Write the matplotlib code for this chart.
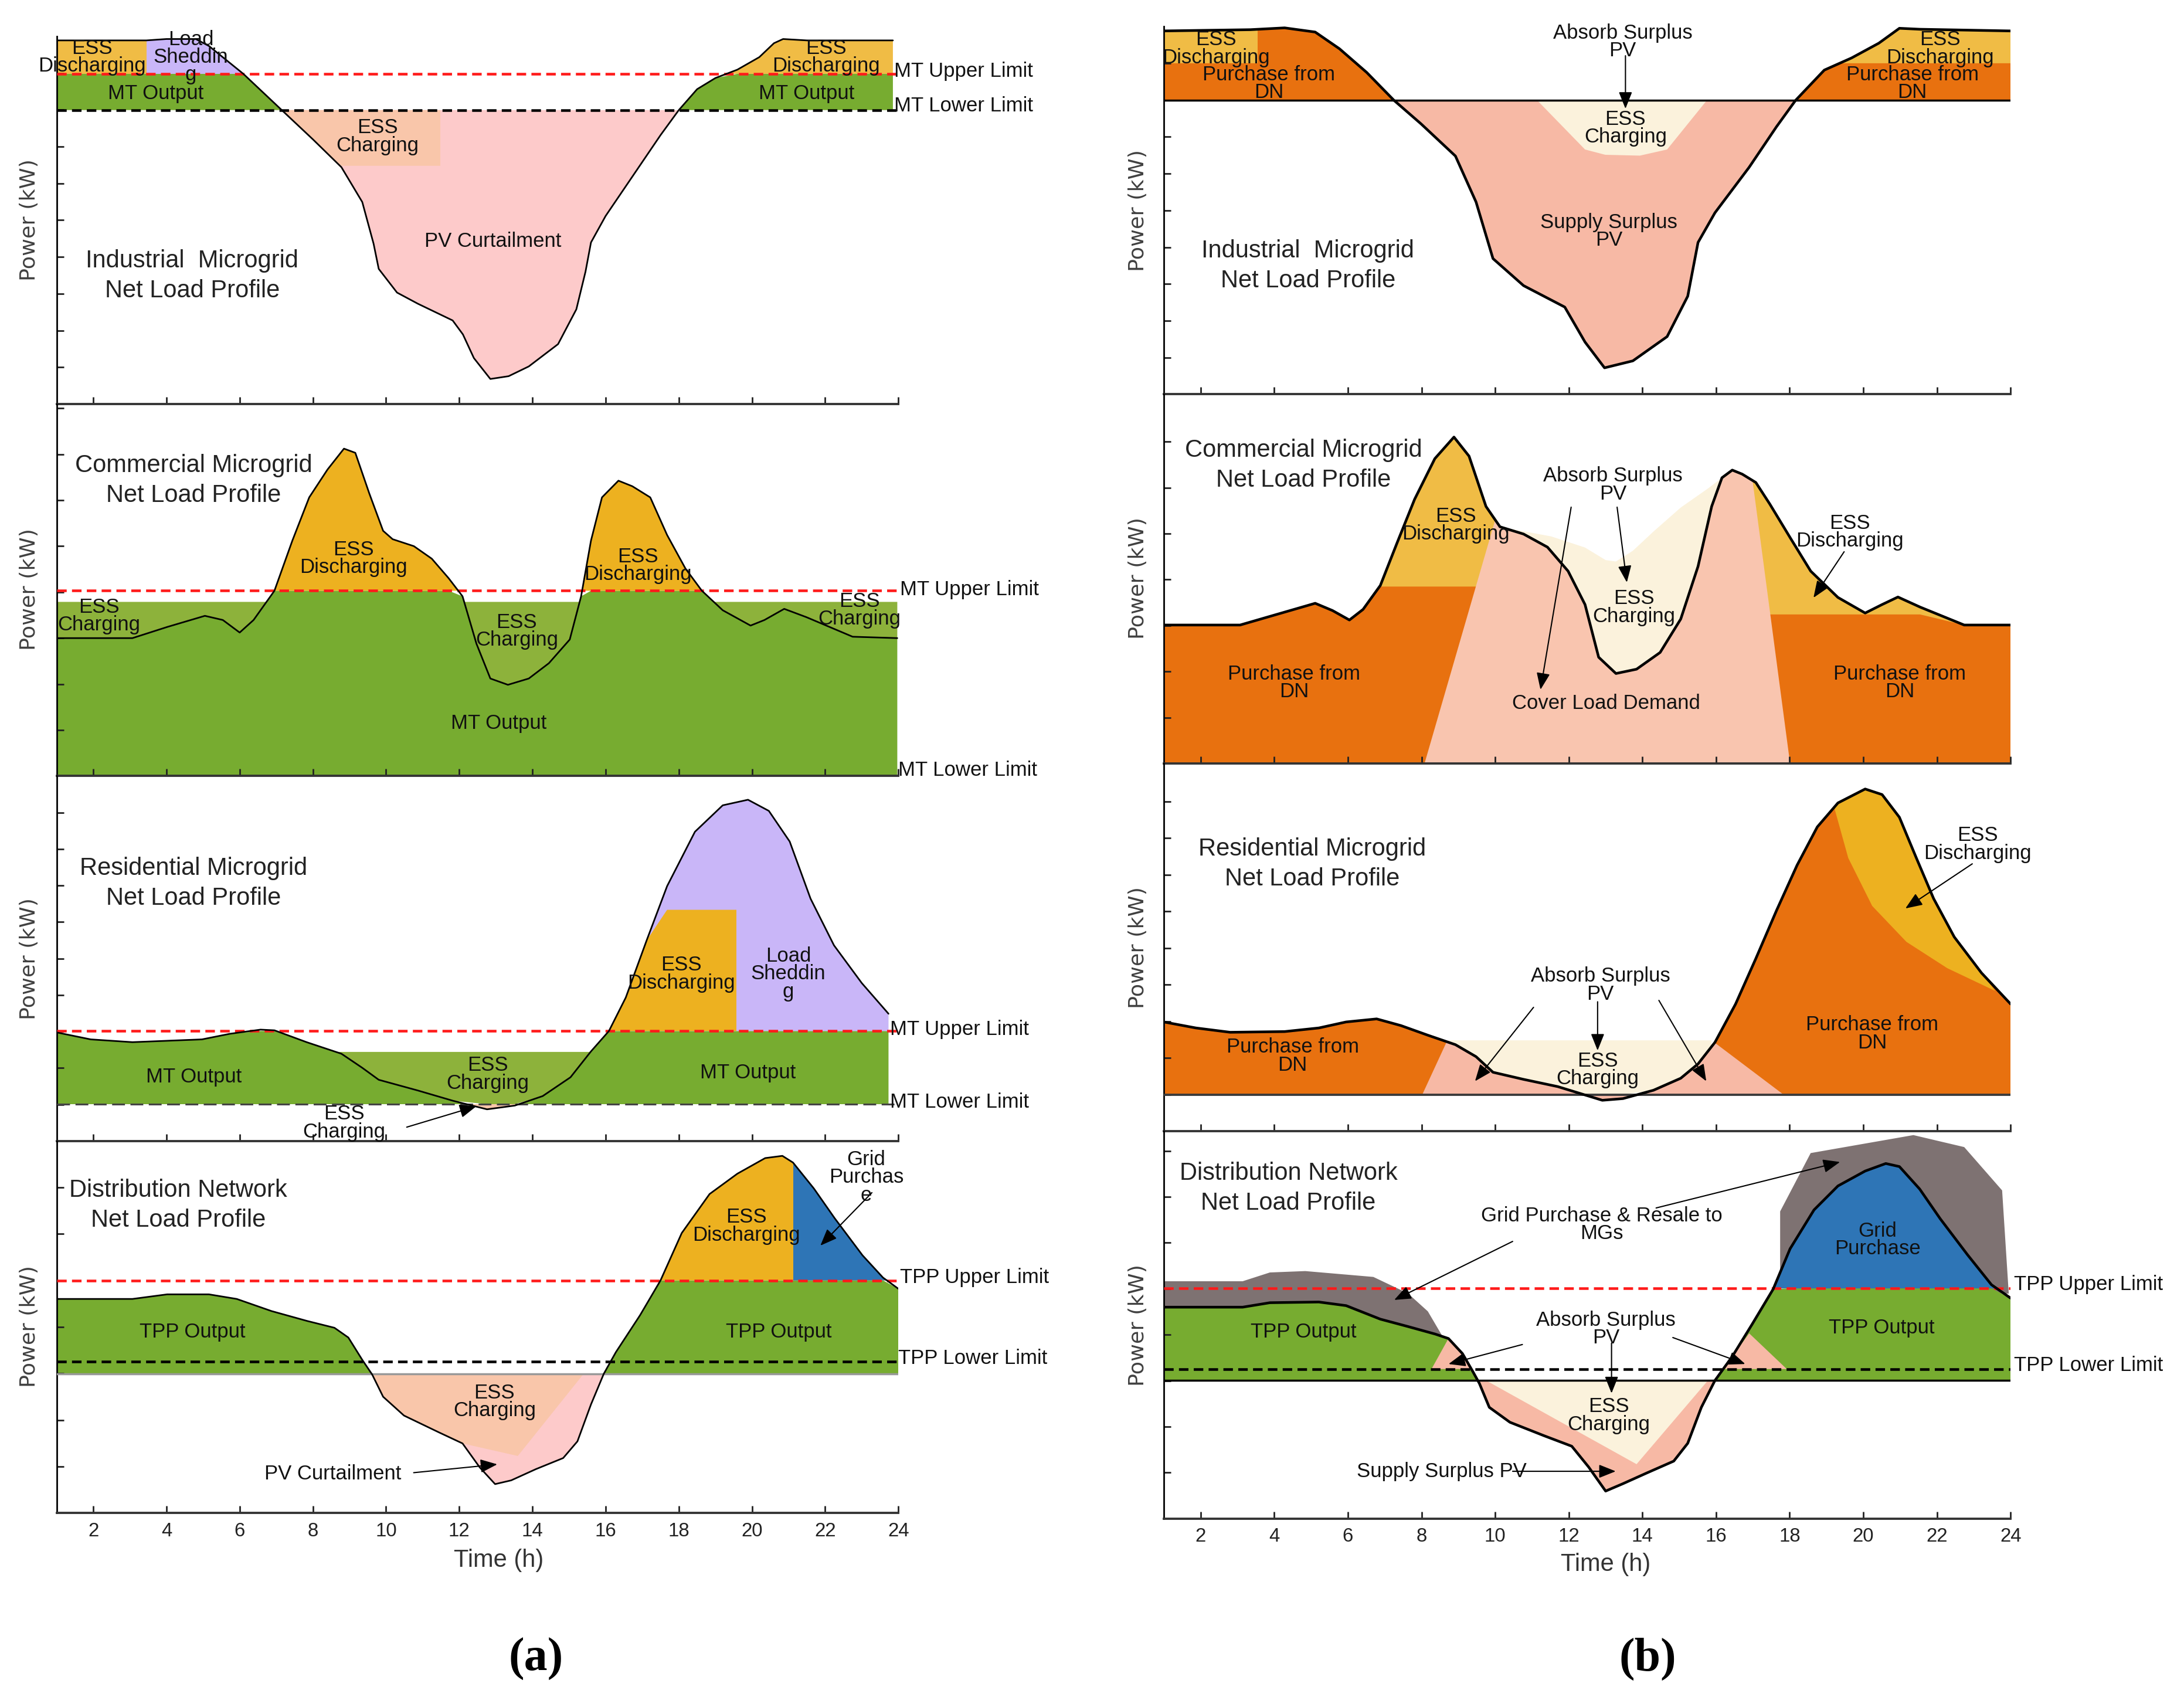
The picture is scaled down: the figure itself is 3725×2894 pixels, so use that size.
import matplotlib.pyplot as plt
import matplotlib.patches as mpatches
import numpy as np

plt.rcParams['font.family'] = ['Liberation Sans', 'DejaVu Sans']

# layout grid of the reference (reduced pixel units, 1568 x 1218)
W_PX, H_PX = 1568.0, 1218.0

GREEN = '#77AC30'
OLIVE = '#8DB23B'
YELLOW = '#EDB120'
YELLOW_L = '#F0BC45'
LAVENDER = '#C9B6F8'
PINK = '#FDCACA'
PEACH = '#F9C6AA'
ORANGE = '#E8710F'
SALMON = '#F7B9A5'
COVER = '#F9C5AF'
CREAM = '#FBF2DC'
BLUE = '#2E75B6'
GRAY = '#7E7272'
RED = '#FF1A1A'

# ---------------- (a) industrial microgrid ----------------
ind_a_h = [1.0, 3.45, 4.0, 4.8, 5.16, 6.1, 7.15, 8.0, 8.78, 9.35, 9.66, 9.8, 10.3, 10.87,
           11.82, 12.1, 12.4, 12.85, 13.35, 13.9, 14.7, 15.2, 15.45, 15.6, 16.0, 16.75,
           17.5, 18.0, 18.5, 19.0, 19.6, 20.2, 20.6, 20.85, 21.5, 23.85]
ind_a_p = [261, 261, 262, 262, 257, 237, 211, 190, 170, 145, 115, 97, 80, 72,
           60, 50, 33, 18, 20, 27, 43, 68, 95, 116, 135, 164,
           193, 211, 226, 234, 240, 249, 259, 262, 261, 261]
ind_a_upper, ind_a_lower = 237, 211
ind_a_ess_until = 3.45
ind_a_charge_until, ind_a_charge_floor = 11.48, 171

# ---------------- (a) commercial microgrid ----------------
com_a_h = [1.0, 3.07, 4.02, 5.05, 5.54, 6.0, 6.38, 6.95, 7.44, 7.9, 8.4, 8.85, 9.16, 9.54,
           9.92, 10.18, 10.76, 11.25, 11.71, 12.09, 12.47, 12.85, 13.33, 13.9, 14.45, 15.02,
           15.33, 15.6, 15.9, 16.35, 16.73, 17.22, 17.68, 18.18, 18.63, 19.2, 19.96, 20.34,
           20.88, 21.49, 22.75, 23.97]
com_a_p = [99, 99, 107, 115, 112, 103, 112, 133, 169, 200, 220, 235, 232, 203,
           176, 170, 165, 156, 142, 129, 95, 70, 65.5, 70, 81, 98,
           129, 169, 200, 212, 208, 200, 173, 149, 133, 119, 108, 112,
           120, 114, 100, 99]
com_a_upper, com_a_charge_top = 133, 125

# ---------------- (a) residential microgrid ----------------
res_a_h = [1.0, 1.93, 3.07, 4.97, 5.73, 6.57, 6.95, 7.83, 8.78, 9.35, 9.8, 10.87, 11.82,
           12.76, 13.52, 14.28, 15.04, 15.6, 16.09, 16.55, 17.12, 17.68, 18.44, 19.2, 19.89,
           20.46, 21.03, 21.6, 22.24, 23.0, 23.73]
res_a_p = [78, 73, 71, 73, 77, 80, 79.5, 71, 62.7, 52.6, 44, 36.3, 29,
           22.8, 25.5, 32.3, 45.8, 64.4, 79, 103, 144, 183, 222, 241, 245,
           237, 215, 174, 140.5, 113.4, 91.4]
res_a_upper, res_a_lower = 79, 26.5
res_a_charge_top = 64
res_a_ess_until, res_a_ess_cap = 19.58, 166

# ---------------- (a) distribution network ----------------
dn_a_h = [1.0, 3.07, 4.02, 5.16, 5.92, 6.87, 7.83, 8.59, 8.97, 9.35, 9.62, 9.92, 10.49,
          11.44, 12.09, 12.56, 12.98, 13.42, 14.09, 14.84, 15.23, 15.6, 15.95, 16.28, 16.94,
          17.5, 18.08, 18.84, 19.6, 20.36, 20.83, 21.12, 21.69, 22.26, 23.02, 23.58, 24.0]
dn_a_p = [153.7, 153.7, 157, 157, 153.7, 145, 138, 133, 126, 110, 99.5, 83.5, 70,
          58, 50, 32.8, 20.8, 23.5, 31.5, 39.5, 51.5, 78, 100, 115.5, 142,
          167, 201, 229, 243.6, 254.8, 256.4, 251.6, 233, 211.6, 185, 169, 161]
dn_a_upper, dn_a_lower, dn_a_base = 167, 108.6, 100
dn_a_grid_from = 21.12
dn_a_ess_span = (9.6, 12.1)
dn_a_ess_h = [13.6, 15.4]
dn_a_ess_p = [41, 100]

# ---------------- (b) industrial microgrid ----------------
ind_b_h = [1.0, 3.35, 4.28, 5.11, 5.77, 6.51, 7.25, 7.99, 8.92, 9.48, 9.94, 10.77, 11.89,
           12.44, 12.97, 13.74, 14.67, 15.23, 15.51, 15.97, 16.9, 17.64, 18.16, 18.94,
           19.68, 20.42, 20.98, 21.54, 24.0]
ind_b_p = [260.8, 261.7, 263, 260, 248, 231, 211, 194, 171, 138, 97.4, 78, 62.6,
           37.5, 19, 24, 41.4, 70.4, 109, 130.3, 163, 192, 211, 232.7,
           241.4, 252, 262.7, 262, 260.8]
ind_b_base, ind_b_ess_level, ind_b_ess_until = 211, 237.6, 3.54
ind_b_charge_h = [11.14, 12.44, 12.99, 13.93, 14.67, 15.75]
ind_b_charge_p = [211, 175.7, 171.9, 171.3, 175.7, 211]

# ---------------- (b) commercial microgrid ----------------
com_b_h = [1.0, 3.07, 4.09, 5.11, 5.58, 6.04, 6.41, 6.88, 7.34, 7.81, 8.36, 8.88, 9.29,
           9.75, 10.13, 10.77, 11.42, 11.98, 12.44, 12.81, 13.28, 13.84, 14.48, 15.04,
           15.51, 15.88, 16.16, 16.44, 16.71, 17.08, 17.46, 18.01, 18.57, 19.31, 20.05,
           20.51, 20.94, 21.54, 22.74, 24.0]
com_b_p = [99.4, 99.4, 107.2, 115, 109.8, 103, 110.6, 127.8, 158.7, 189.6, 218.8, 234.3, 220.6,
           184.5, 169.9, 164.7, 155.3, 138.1, 114.1, 76.3, 64.6, 67.7, 79.7, 103.7,
           141.5, 184.5, 205.1, 210.6, 207.7, 201.7, 186.2, 162.2, 138.1, 119.2, 108,
           114.1, 119.5, 112.3, 99.4, 99.4]
com_b_dn_left, com_b_dn_right = 127, 107
com_b_cover_h = [8.08, 10.99, 16.68, 18.01]
com_b_cover_p = [0, 265, 265, 0]
com_b_absorb_h = [10.1, 11.52, 12.44, 13.0, 13.28, 13.74, 14.3, 15.04, 15.78, 16.44]
com_b_absorb_p = [170, 163, 155, 146, 145, 152.7, 166.5, 183.7, 197.4, 210.6]

# ---------------- (b) residential microgrid ----------------
res_b_h = [1.0, 1.87, 2.8, 4.28, 5.21, 5.95, 6.78, 7.44, 8.17, 8.92, 9.48, 9.94, 10.77,
           11.7, 12.44, 12.91, 13.47, 14.3, 15.04, 15.51, 15.97, 16.53, 17.08, 17.64, 18.2,
           18.75, 19.31, 20.05, 20.51, 20.98, 21.44, 21.91, 22.47, 23.21, 24.0]
res_b_p = [78.5, 74.2, 71.1, 71.6, 74.2, 78.5, 80.7, 75.9, 69, 62.2, 53.6, 42.4, 37.3,
           32.1, 26.1, 22.3, 23.5, 29.5, 38.1, 48.4, 63.9, 91.4, 124, 158.4, 191,
           218.5, 235.7, 245.7, 241.7, 225.4, 196.2, 167, 139.5, 113.7, 91.4]
res_b_base, res_b_charge_top = 26.4, 65.3
res_b_surplus_h = [8.02, 8.7, 15.88, 17.83]
res_b_surplus_p = [26.4, 65.3, 65.3, 26.4]
res_b_ess_h = [19.22, 19.59, 20.24, 21.17, 22.28, 23.58]
res_b_ess_p = [231.4, 196.2, 161.8, 136, 117.1, 100.8]

# ---------------- (b) distribution network ----------------
dn_b_h = [1.0, 3.14, 3.88, 5.21, 5.95, 6.88, 7.63, 8.37, 8.73, 9.11, 9.39, 9.57, 9.84,
          10.4, 11.33, 12.08, 12.54, 13.0, 13.47, 14.11, 14.85, 15.23, 15.6, 15.97, 16.44,
          16.99, 17.55, 18.01, 18.66, 19.31, 20.05, 20.61, 20.98, 21.53, 22.09, 22.83,
          23.48, 24.0]
dn_b_p = [151.8, 151.8, 155, 155.5, 152.9, 143.2, 137.9, 132.5, 129.3, 118.5, 105.7, 97.1, 79.9,
          69.2, 59.5, 52, 37, 19.8, 25.1, 32.7, 41.3, 54.1, 79.9, 99.2, 116.4,
          140, 164.7, 193.7, 221.6, 238.8, 249.5, 254.9, 252.7, 236.6, 215.2, 189.4,
          167.9, 158.3]
dn_b_upper, dn_b_lower, dn_b_base = 165.3, 107.4, 99.2
dn_b_resale_l_h = [1.0, 3.14, 3.88, 4.84, 6.69, 7.63, 8.17, 8.55, 8.73]
dn_b_resale_l_p = [170.4, 170.4, 176.7, 177.7, 173.5, 161.7, 148.8, 131.7, 129.3]
dn_b_resale_r_h = [17.74, 17.74, 18.57, 21.36, 22.74, 23.77, 23.95]
dn_b_resale_r_p = [165.3, 220.5, 262.4, 275.3, 266.7, 235.6, 161.5]
dn_b_charge_h = [9.75, 13.84, 15.78]
dn_b_charge_p = [99.2, 39.1, 99.2]
dn_b_absorb_l_h = [8.27, 8.73, 9.11, 9.35]
dn_b_absorb_l_p = [107.4, 129.3, 118.5, 107.4]
dn_b_absorb_r_h = [16.19, 16.44, 16.9, 17.92]
dn_b_absorb_r_p = [107.4, 116.4, 133, 107.4]


def fpos(x, y):
    return x / W_PX, 1 - y / H_PX


def make_axes(fig, left, right, top, bottom, ystep, labels):
    ax = fig.add_axes([left / W_PX, 1 - bottom / H_PX, (right - left) / W_PX, (bottom - top) / H_PX])
    ax.set_xlim(1, 24)
    ax.set_ylim(0, bottom - top)
    ax.patch.set_visible(False)
    for s in ('top', 'right'):
        ax.spines[s].set_visible(False)
    ax.spines['left'].set_linewidth(0.8)
    ax.spines['bottom'].set_linewidth(1.1)
    ax.spines['bottom'].set_color('#333333')
    ax.set_xticks(np.arange(2, 25, 2))
    ax.set_yticks(np.arange(ystep, bottom - top - 2, ystep))
    ax.tick_params(direction='in', length=3.4, width=0.8, labelsize=9.5, pad=4.5, colors='#222222')
    ax.tick_params(axis='y', labelleft=False)
    if not labels:
        ax.tick_params(axis='x', labelbottom=False)
    return ax


def band(ax, h, lo, hi, color, where=None, xr=None, poly=None):
    coll = ax.fill_between(np.asarray(h, float), lo, hi, where=where, interpolate=True,
                           facecolor=color, edgecolor='none', zorder=1)
    if xr is not None:
        y1 = ax.get_ylim()[1] + 20
        poly = [(xr[0], -20), (xr[1], -20), (xr[1], y1), (xr[0], y1)]
    if poly is not None:
        coll.set_clip_path(mpatches.Polygon(poly, closed=True, transform=ax.transData))
    return coll


def dashed(ax, y, color):
    ax.axhline(y, color=color, lw=1.3, dashes=(3.6, 2.0), zorder=4)


def curve(ax, h, p, lw):
    ax.plot(h, p, color='black', lw=lw, zorder=5, solid_joinstyle='round', solid_capstyle='round')


def put(fig, s, x, y, size=10, ha='center'):
    fig.text(*fpos(x, y), s, fontsize=size, ha=ha, va='center', linespacing=0.9, color='#111111')


def title(fig, s, x, y):
    fig.text(*fpos(x, y), s, fontsize=12, ha='center', va='center', linespacing=1.36, color='#222222')


def limit(fig, s, x, y):
    fig.text(*fpos(x, y), s, fontsize=10, ha='left', va='center', color='#111111')


def arrow(fig, tail, head):
    fig.add_artist(mpatches.FancyArrowPatch(fpos(*tail), fpos(*head), transform=fig.transFigure,
                                            arrowstyle='-|>,head_length=0.5,head_width=0.2',
                                            mutation_scale=14, lw=0.6, color='black',
                                            shrinkA=0, shrinkB=0, zorder=6))


def draw_ind_a(ax):
    h, p = np.array(ind_a_h), np.array(ind_a_p)
    up, lo = ind_a_upper, ind_a_lower
    band(ax, h, lo, np.minimum(p, up), GREEN, where=p > lo)
    band(ax, h, up, p, LAVENDER, where=p > up, xr=(1, 12))
    band(ax, h, up, p, YELLOW_L, where=p > up, xr=(1, ind_a_ess_until))
    band(ax, h, up, p, YELLOW_L, where=p > up, xr=(12, 24))
    band(ax, h, p, lo, PINK, where=p < lo)
    band(ax, h, np.maximum(p, ind_a_charge_floor), lo, PEACH, where=p < lo, xr=(1, ind_a_charge_until))
    dashed(ax, up, RED)
    dashed(ax, lo, 'black')
    curve(ax, h, p, 0.8)


def draw_com_a(ax):
    h, p = np.array(com_a_h), np.array(com_a_p)
    up = com_a_upper
    band(ax, h, 0, np.minimum(p, up), GREEN)
    band(ax, h, p, com_a_charge_top, OLIVE, where=p < com_a_charge_top)
    band(ax, h, up, p, YELLOW, where=p > up)
    dashed(ax, up, RED)
    curve(ax, h, p, 0.8)


def draw_res_a(ax):
    h, p = np.array(res_a_h), np.array(res_a_p)
    up, lo = res_a_upper, res_a_lower
    band(ax, h, lo, np.minimum(p, up), GREEN, where=p > lo)
    band(ax, h, np.maximum(p, lo), res_a_charge_top, OLIVE, where=p < res_a_charge_top)
    band(ax, h, p, lo, PEACH, where=p < lo)
    band(ax, h, up, p, LAVENDER, where=p > up, xr=(15, 24))
    band(ax, h, up, np.minimum(p, res_a_ess_cap), YELLOW, where=p > up, xr=(15, res_a_ess_until))
    dashed(ax, up, RED)
    ax.axhline(lo, color='#444444', lw=0.9, dashes=(7, 3), zorder=4)
    curve(ax, h, p, 0.8)


def draw_dn_a(ax):
    h, p = np.array(dn_a_h), np.array(dn_a_p)
    up, base = dn_a_upper, dn_a_base
    band(ax, h, base, np.minimum(p, up), GREEN, where=p > base)
    band(ax, h, p, base, PINK, where=p < base)
    span = (h >= dn_a_ess_span[0]) & (h <= dn_a_ess_span[1])
    ax.fill(np.r_[h[span], dn_a_ess_h], np.r_[p[span], dn_a_ess_p], color=PEACH, lw=0, zorder=1)
    band(ax, h, up, p, YELLOW, where=p > up)
    band(ax, h, up, p, BLUE, where=p > up, xr=(dn_a_grid_from, 24))
    ax.axhline(base, color='#999999', lw=1.0, zorder=3)
    dashed(ax, up, RED)
    dashed(ax, dn_a_lower, 'black')
    curve(ax, h, p, 0.8)


def draw_ind_b(ax):
    h, p = np.array(ind_b_h), np.array(ind_b_p)
    base, lvl = ind_b_base, ind_b_ess_level
    band(ax, h, base, p, ORANGE, where=p > base)
    band(ax, h, lvl, p, YELLOW_L, where=p > lvl, xr=(1, ind_b_ess_until))
    band(ax, h, lvl, p, YELLOW_L, where=p > lvl, xr=(12, 24))
    band(ax, h, p, base, SALMON, where=p < base)
    ax.fill(ind_b_charge_h, ind_b_charge_p, color=CREAM, lw=0, zorder=1)
    ax.axhline(base, color='black', lw=1.0, zorder=4)
    curve(ax, h, p, 1.3)


def draw_com_b(ax):
    h, p = np.array(com_b_h), np.array(com_b_p)
    band(ax, h, 0, p, YELLOW_L)
    band(ax, h, 0, np.minimum(p, com_b_dn_left), ORANGE, xr=(1, 12))
    band(ax, h, 0, np.minimum(p, com_b_dn_right), ORANGE, xr=(12, 24))
    band(ax, h, 0, p, COVER, poly=list(zip(com_b_cover_h, com_b_cover_p)))
    inner = (h > com_b_absorb_h[0]) & (h < com_b_absorb_h[-1])
    ax.fill(np.r_[com_b_absorb_h, h[inner][::-1]], np.r_[com_b_absorb_p, p[inner][::-1]],
            color=CREAM, lw=0, zorder=1)
    curve(ax, h, p, 1.3)


def draw_res_b(ax):
    h, p = np.array(res_b_h), np.array(res_b_p)
    base, top = res_b_base, res_b_charge_top
    band(ax, h, base, p, ORANGE, where=p > base)
    band(ax, h, base, p, SALMON, where=p > base, poly=list(zip(res_b_surplus_h, res_b_surplus_p)))
    band(ax, h, np.maximum(p, base), top, CREAM, where=p < top,
         xr=(res_b_surplus_h[1], res_b_surplus_h[2]))
    band(ax, h, p, base, SALMON, where=p < base)
    inner = (h > res_b_ess_h[0]) & (h < res_b_ess_h[-1])
    ax.fill(np.r_[res_b_ess_h, h[inner][::-1]], np.r_[res_b_ess_p, p[inner][::-1]],
            color=YELLOW, lw=0, zorder=1)
    ax.axhline(base, color='#3a3a3a', lw=1.1, zorder=4)
    curve(ax, h, p, 1.3)


def draw_dn_b(ax):
    h, p = np.array(dn_b_h), np.array(dn_b_p)
    up, base = dn_b_upper, dn_b_base
    ax.fill(np.r_[dn_b_resale_l_h, dn_b_resale_l_h[-1], dn_b_resale_l_h[0]],
            np.r_[dn_b_resale_l_p, base, base], color=GRAY, lw=0, zorder=1)
    ax.fill(dn_b_resale_r_h, dn_b_resale_r_p, color=GRAY, lw=0, zorder=1)
    band(ax, h, base, np.minimum(p, up), GREEN, where=p > base)
    band(ax, h, up, p, BLUE, where=p > up)
    band(ax, h, p, base, SALMON, where=p < base)
    ax.fill(dn_b_charge_h, dn_b_charge_p, color=CREAM, lw=0, zorder=1)
    ax.fill(dn_b_absorb_l_h, dn_b_absorb_l_p, color=SALMON, lw=0, zorder=1)
    ax.fill(dn_b_absorb_r_h, dn_b_absorb_r_p, color=SALMON, lw=0, zorder=1)
    ax.axhline(base, color='black', lw=1.0, zorder=4)
    dashed(ax, up, RED)
    dashed(ax, dn_b_lower, 'black')
    curve(ax, h, p, 1.3)


fig = plt.figure(figsize=(14.9, 11.576), dpi=250)

LX0, LX1 = 40.7, 645.0
RX0, RX1 = 835.6, 1443.5

draw_ind_a(make_axes(fig, LX0, LX1, 26, 290, 26.4, False))
draw_com_a(make_axes(fig, LX0, LX1, 290, 557, 33.0, False))
draw_res_a(make_axes(fig, LX0, LX1, 557, 819, 26.2, False))
draw_dn_a(make_axes(fig, LX0, LX1, 819, 1086, 33.4, True))
draw_ind_b(make_axes(fig, RX0, RX1, 19, 283, 26.4, False))
draw_com_b(make_axes(fig, RX0, RX1, 283, 548, 33.0, False))
draw_res_b(make_axes(fig, RX0, RX1, 548, 812, 26.3, False))
draw_dn_b(make_axes(fig, RX0, RX1, 812, 1090, 33.0, True))

# axis titles
for yc in (158, 423, 688, 952):
    fig.text(*fpos(21, yc), 'Power (kW)', rotation=90, ha='center', va='center',
             family='DejaVu Sans', fontsize=10.5, color='#404040')
for yc in (151, 415, 680, 951):
    fig.text(*fpos(817, yc), 'Power (kW)', rotation=90, ha='center', va='center',
             family='DejaVu Sans', fontsize=10.5, color='#404040')
fig.text(*fpos(358, 1120), 'Time (h)', ha='center', va='center', fontsize=12, color='#333333')
fig.text(*fpos(1153, 1123), 'Time (h)', ha='center', va='center', fontsize=12, color='#333333')
fig.text(*fpos(385, 1191), '(a)', ha='center', va='center', family='Liberation Serif',
         fontweight='bold', fontsize=23)
fig.text(*fpos(1183, 1191), '(b)', ha='center', va='center', family='Liberation Serif',
         fontweight='bold', fontsize=23)

# (a) industrial
put(fig, 'ESS\nDischarging', 66, 41)
put(fig, 'Load\nSheddin\ng', 137, 41)
put(fig, 'MT Output', 112, 67)
put(fig, 'ESS\nCharging', 271, 98)
put(fig, 'PV Curtailment', 354, 173)
title(fig, 'Industrial  Microgrid\nNet Load Profile', 138, 198)
put(fig, 'ESS\nDischarging', 593, 41)
put(fig, 'MT Output', 579, 67)
limit(fig, 'MT Upper Limit', 642, 51)
limit(fig, 'MT Lower Limit', 642, 76)

# (a) commercial
title(fig, 'Commercial Microgrid\nNet Load Profile', 139, 345)
put(fig, 'ESS\nDischarging', 254, 401)
put(fig, 'ESS\nDischarging', 458, 406)
put(fig, 'ESS\nCharging', 71, 442)
put(fig, 'ESS\nCharging', 371, 453)
put(fig, 'ESS\nCharging', 617, 438)
put(fig, 'MT Output', 358, 519)
limit(fig, 'MT Upper Limit', 646, 423)
limit(fig, 'MT Lower Limit', 645, 553)

# (a) residential
title(fig, 'Residential Microgrid\nNet Load Profile', 139, 634)
put(fig, 'ESS\nDischarging', 489, 699)
put(fig, 'Load\nSheddin\ng', 566, 699)
put(fig, 'MT Output', 139, 773)
put(fig, 'ESS\nCharging', 350, 771)
put(fig, 'MT Output', 537, 770)
limit(fig, 'MT Upper Limit', 639, 739)
limit(fig, 'MT Lower Limit', 639, 791)
put(fig, 'ESS\nCharging', 247, 806)
arrow(fig, (292, 809), (342, 794))

# (a) distribution network
title(fig, 'Distribution Network\nNet Load Profile', 128, 865)
put(fig, 'ESS\nDischarging', 536, 880)
put(fig, 'Grid\nPurchas\ne', 622, 845)
arrow(fig, (626, 856), (589, 894))
put(fig, 'TPP Output', 138, 956)
put(fig, 'TPP Output', 559, 956)
limit(fig, 'TPP Upper Limit', 646, 917)
limit(fig, 'TPP Lower Limit', 645, 975)
put(fig, 'ESS\nCharging', 355, 1006)
put(fig, 'PV Curtailment', 239, 1058)
arrow(fig, (297, 1057), (357, 1051))

# (b) industrial
put(fig, 'ESS\nDischarging', 873, 35)
put(fig, 'Purchase from\nDN', 911, 60)
put(fig, 'Absorb Surplus\nPV', 1165, 30)
arrow(fig, (1167, 40), (1167, 78))
put(fig, 'ESS\nCharging', 1167, 92)
put(fig, 'Supply Surplus\nPV', 1155, 166)
title(fig, 'Industrial  Microgrid\nNet Load Profile', 939, 191)
put(fig, 'ESS\nDischarging', 1393, 35)
put(fig, 'Purchase from\nDN', 1373, 60)

# (b) commercial
title(fig, 'Commercial Microgrid\nNet Load Profile', 936, 334)
put(fig, 'ESS\nDischarging', 1045, 377)
put(fig, 'Absorb Surplus\nPV', 1158, 348)
arrow(fig, (1128, 364), (1106, 495))
arrow(fig, (1161, 364), (1168, 418))
put(fig, 'ESS\nCharging', 1173, 436)
put(fig, 'Cover Load Demand', 1153, 505)
put(fig, 'ESS\nDischarging', 1328, 382)
arrow(fig, (1324, 396), (1302, 429))
put(fig, 'Purchase from\nDN', 929, 490)
put(fig, 'Purchase from\nDN', 1364, 490)

# (b) residential
title(fig, 'Residential Microgrid\nNet Load Profile', 942, 620)
put(fig, 'ESS\nDischarging', 1420, 606)
arrow(fig, (1416, 620), (1368, 652))
put(fig, 'Absorb Surplus\nPV', 1149, 707)
arrow(fig, (1147, 719), (1147, 754))
arrow(fig, (1101, 723), (1059, 776))
arrow(fig, (1191, 718), (1225, 776))
put(fig, 'ESS\nCharging', 1147, 768)
put(fig, 'Purchase from\nDN', 928, 758)
put(fig, 'Purchase from\nDN', 1344, 742)

# (b) distribution network
title(fig, 'Distribution Network\nNet Load Profile', 925, 853)
put(fig, 'Grid Purchase & Resale to\nMGs', 1150, 879)
arrow(fig, (1086, 891), (1001, 933))
arrow(fig, (1189, 867), (1321, 834))
put(fig, 'Grid\nPurchase', 1348, 890)
put(fig, 'TPP Output', 936, 956)
put(fig, 'TPP Output', 1351, 953)
limit(fig, 'TPP Upper Limit', 1446, 922)
limit(fig, 'TPP Lower Limit', 1446, 980)
put(fig, 'Absorb Surplus\nPV', 1153, 954)
arrow(fig, (1093, 965), (1040, 979))
arrow(fig, (1201, 960), (1253, 979))
arrow(fig, (1157, 964), (1157, 1000))
put(fig, 'ESS\nCharging', 1155, 1016)
put(fig, 'Supply Surplus PV', 1035, 1056)
arrow(fig, (1086, 1056), (1160, 1056))

fig.savefig('out.png', dpi=250, facecolor='white')
